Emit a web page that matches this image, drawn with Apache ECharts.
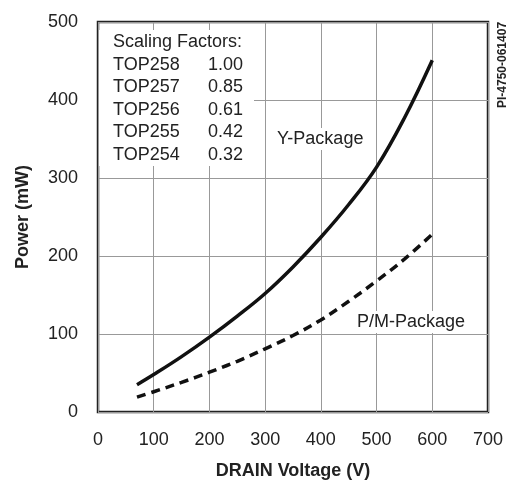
<!DOCTYPE html>
<html>
<head>
<meta charset="utf-8">
<script src="https://cdn.jsdelivr.net/npm/echarts@6/dist/echarts.min.js"></script>
<style>
  html, body { margin: 0; padding: 0; background: #fff; }
  #chart { width: 522px; height: 497px; }
</style>
</head>
<body>
<div id="chart"></div>
<script>
'use strict';
// drain voltage (V) samples
var voltage = [70, 100, 150, 200, 250, 300, 350, 400, 450, 500, 550, 600];
// power (mW) for each package
var yPackage = [35, 48, 71, 96, 123, 152, 186, 224, 266, 314, 377, 451];
var pmPackage = [19, 26, 38, 51, 65, 81, 98, 118, 142, 168, 196, 228];

var xTicks = [0, 100, 200, 300, 400, 500, 600, 700];
var yTicks = [0, 100, 200, 300, 400, 500];

var parts = ['TOP258', 'TOP257', 'TOP256', 'TOP255', 'TOP254'];
var factors = ['1.00', '0.85', '0.61', '0.42', '0.32'];

var font = '"Liberation Sans", Arial, Helvetica, sans-serif';

function pairs(xs, ys) {
    return xs.map(function (x, i) { return [x, ys[i]]; });
}

var myChart = echarts.init(document.getElementById('chart'));

var graphics = [];
// white box behind the scaling factors table
graphics.push({
    type: 'rect', z: 50,
    shape: {x: 99, y: 30, width: 155, height: 136},
    style: {fill: '#fff'}
});
graphics.push({
    type: 'text', z: 51, left: 113, top: 33,
    style: {text: 'Scaling Factors:', font: '18px ' + font, fill: '#222'}
});
parts.forEach(function (p, i) {
    graphics.push({
        type: 'text', z: 51, left: 113, top: 56 + i * 22.5,
        style: {text: p, font: '18px ' + font, fill: '#222'}
    });
    graphics.push({
        type: 'text', z: 51, left: 208, top: 56 + i * 22.5,
        style: {text: factors[i], font: '18px ' + font, fill: '#222'}
    });
});
graphics.push({
    type: 'text', z: 51, left: 273, top: 128,
    style: {text: 'Y-Package', font: '18px ' + font, fill: '#222',
        backgroundColor: '#fff', padding: [2, 4, 2, 4]}
});
graphics.push({
    type: 'text', z: 51, left: 353, top: 311,
    style: {text: 'P/M-Package', font: '18px ' + font, fill: '#222',
        backgroundColor: '#fff', padding: [2, 6, 2, 4]}
});
graphics.push({
    type: 'text', z: 51, x: 497, y: 108, rotation: Math.PI / 2,
    style: {text: 'PI-4750-061407', font: 'bold 12px ' + font, fill: '#222'}
});

var option = {
    animation: false,
    backgroundColor: '#fff',
    grid: {
        left: 98, top: 22, right: 34, bottom: 85,
        show: true, borderColor: '#222', borderWidth: 2.5, backgroundColor: 'transparent'
    },
    xAxis: {
        type: 'value',
        min: xTicks[0], max: xTicks[xTicks.length - 1], interval: 100,
        name: 'DRAIN Voltage (V)',
        nameLocation: 'middle', nameGap: 50,
        nameTextStyle: {fontFamily: font, fontWeight: 'bold', fontSize: 18, color: '#222'},
        axisLine: {show: false},
        axisTick: {show: false},
        axisLabel: {fontFamily: font, fontSize: 18, color: '#222', margin: 19},
        splitLine: {show: true, lineStyle: {color: '#999', width: 1}}
    },
    yAxis: {
        type: 'value',
        min: yTicks[0], max: yTicks[yTicks.length - 1], interval: 100,
        name: 'Power (mW)',
        nameLocation: 'middle', nameGap: 66,
        nameTextStyle: {fontFamily: font, fontWeight: 'bold', fontSize: 18, color: '#222'},
        axisLine: {show: false},
        axisTick: {show: false},
        axisLabel: {fontFamily: font, fontSize: 18, color: '#222', margin: 20},
        splitLine: {show: true, lineStyle: {color: '#999', width: 1}}
    },
    series: [
        {
            type: 'line', smooth: 0.4, symbol: 'none',
            data: pairs(voltage, yPackage),
            lineStyle: {color: '#111', width: 3.5}
        },
        {
            type: 'line', smooth: 0.4, symbol: 'none',
            data: pairs(voltage, pmPackage),
            lineStyle: {color: '#111', width: 3.5, type: [9, 6]}
        }
    ],
    graphic: graphics
};

myChart.setOption(option);
window.addEventListener('resize', function () {
    myChart.resize();
});
</script>
</body>
</html>
